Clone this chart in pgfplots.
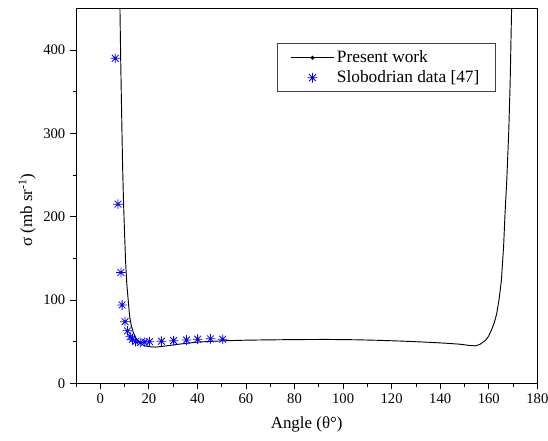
\documentclass[border=0pt]{standalone}
\usepackage{fontspec}
\setmainfont{Liberation Serif}
\usepackage{pgfplots}
\pgfplotsset{compat=1.18}
\pgfdeclareplotmark{ast8}{%
  \pgfpathmoveto{\pgfqpoint{-\pgfplotmarksize}{0pt}}\pgfpathlineto{\pgfqpoint{\pgfplotmarksize}{0pt}}%
  \pgfpathmoveto{\pgfqpoint{0pt}{-\pgfplotmarksize}}\pgfpathlineto{\pgfqpoint{0pt}{\pgfplotmarksize}}%
  \pgfpathmoveto{\pgfqpoint{-0.707\pgfplotmarksize}{-0.707\pgfplotmarksize}}\pgfpathlineto{\pgfqpoint{0.707\pgfplotmarksize}{0.707\pgfplotmarksize}}%
  \pgfpathmoveto{\pgfqpoint{-0.707\pgfplotmarksize}{0.707\pgfplotmarksize}}\pgfpathlineto{\pgfqpoint{0.707\pgfplotmarksize}{-0.707\pgfplotmarksize}}%
  \pgfusepathqstroke}
\pgfplotsset{
  linelegend/.style={legend image code/.code={\draw[black, line width=0.7pt] (0pt,0pt) -- (32pt,0pt); \fill[black] (16pt,0pt) circle (1.1pt);}},
  astlegend/.style={legend image code/.code={\path[draw=none,fill=none] (0pt,0pt) -- (32pt,0pt); \draw[mark repeat=2,mark phase=2,##1] plot coordinates {(0pt,0pt)(16pt,0pt)(32pt,0pt)};}},
}
\begin{document}
\begin{tikzpicture}
\begin{axis}[name=ax, at={(0,0)}, anchor=south west,
  scale only axis, width=346pt, height=281.25pt,
  xmin=-10, xmax=180, ymin=0, ymax=450,
  xtick={0,20,...,180}, minor xtick={-10,10,...,170},
  ytick={0,100,...,400}, minor ytick={50,150,250,350},
  tick align=outside, tick pos=left,
  major tick length=4.5pt, minor tick length=2.5pt,
  tick style={black, line width=0.6pt},
  axis line style={line width=0.6pt},
  ticklabel style={font=\fontsize{11}{13}\selectfont},
  /pgf/number format/assume math mode=true,
  xlabel={Angle (θ°)}, ylabel={σ (mb sr\textsuperscript{-1})},
  label style={font=\fontsize{12.7}{15}\selectfont},
  xlabel style={at={(axis description cs:0.5,-0.1085)}, anchor=center},
  ylabel style={at={(axis description cs:-0.106,0.462)}, anchor=center},
  legend style={at={(0.91,0.907)}, anchor=north east, draw=black!75, line width=0.6pt,
    font=\fontsize{13}{15}\selectfont, row sep=0.5pt, inner xsep=10pt, inner ysep=3.3pt},
  legend cell align=left,
]
\addplot[black, line width=0.7pt, linelegend]
coordinates {
(8.1,450)(8.4,390)(8.7,339)(9.2,259)(9.6,215)(10.0,180)(10.4,148)(10.9,120)(11.5,100)(12.1,80)
(12.8,69)(13.5,62)(14.3,56)(15.3,51.5)(16.5,48)(18,45.5)(20,44)(22.8,43.5)(26,44.5)(32.5,47)
(40,49.5)(50,51)(60,51.8)(70,52.2)(80,52.5)(93,52.7)(105,52.3)(115,51.6)(125,50.6)(135,49.3)
(142,48.2)(148,47)(152,45.5)(154.6,45)(156.5,47)(158.8,52)(160,57)(161.1,64)(162.3,73)(163.3,84)
(164.3,102)(165.2,124)(166.1,164)(166.7,204)(167.4,243)(168.2,300)(168.8,360)(169.4,450)
};
\addlegendentry{Present work}
\addplot[only marks, blue, mark=ast8, mark size=3.6pt, line width=0.6pt, astlegend]
coordinates {
(6.2,390)(7.3,215)(8.5,133)(9.0,94)(10.2,74)(11.2,63)(12.3,56)(13.3,53)(14.5,50)(16.5,49)
(18.3,49.5)(20.3,50)(25.2,50.5)(30.2,51.2)(35.5,52)(40.1,53)(45.4,53.4)(50.4,53)
};
\addlegendentry{Slobodrian data [47]}
\end{axis}
\pgfresetboundingbox
\path (ax.south west) ++(-57pt,-42.5pt) rectangle ++(411pt,330pt);
\end{tikzpicture}
\end{document}
